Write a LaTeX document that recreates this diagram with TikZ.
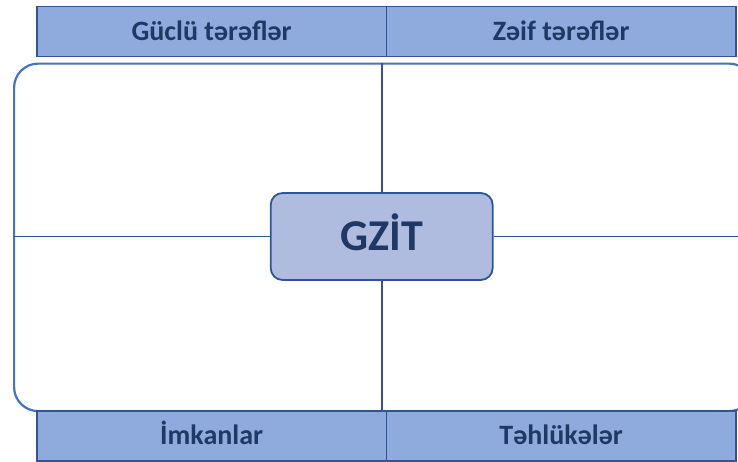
\documentclass[tikz,border=0pt]{standalone}
\usepackage{fontspec}
\setmainfont{Carlito}
\definecolor{hdrfill}{HTML}{8FAADC}
\definecolor{hdrline}{HTML}{2F5597}
\definecolor{txtcol}{HTML}{203864}
\definecolor{ctrfill}{HTML}{AFBCE0}
\definecolor{framecol}{HTML}{4472C4}
\begin{document}
\begin{tikzpicture}[x=1pt,y=-1pt,
  hdr/.style={draw=hdrline, line width=1.8pt, fill=hdrfill, minimum width=349.5pt,
    minimum height=50pt, inner sep=0pt, anchor=north west, text=txtcol,
    text height=19pt, text depth=1pt,
    font=\fontsize{28}{32}\selectfont\bfseries},
  board/.style={draw=framecol, line width=2.2pt, rounded corners=24pt, minimum width=739pt,
    minimum height=347.5pt, inner sep=0pt, anchor=north west},
  centre/.style={draw=hdrline, line width=1.8pt, fill=ctrfill, rounded corners=12pt,
    minimum width=222pt, minimum height=87pt, inner sep=0pt, text=txtcol,
    text height=28pt, text depth=0pt,
    font=\fontsize{44}{48}\selectfont\bfseries},
  cross/.style={draw=hdrline, line width=1.8pt}]
\useasboundingbox (0,0) rectangle (738,461);
\clip (0,0) rectangle (738,461);
\node[board] (frame) at (13,62.5) {};
\coordinate (ctop) at (381.7,62.5);
\coordinate (cbot) at (381.7,410);
\coordinate (cleft) at (13,236.5);
\coordinate (cright) at (752,236.5);
\node[centre] (gzit) at (381.7,236.5) {GZİT};
\draw[cross] (ctop) -- (gzit.north);
\draw[cross] (gzit.south) -- (cbot);
\draw[cross] (cleft) -- (gzit.west);
\draw[cross] (gzit.east) -- (cright);
\node[hdr] (s) at (36,5.5) {Güclü tərəflər};
\node[hdr] (w) at (385.5,5.5) {Zəif tərəflər};
\node[hdr] (o) at (36,410) {İmkanlar};
\node[hdr] (t) at (385.5,410) {Təhlükələr};
\end{tikzpicture}
\end{document}
